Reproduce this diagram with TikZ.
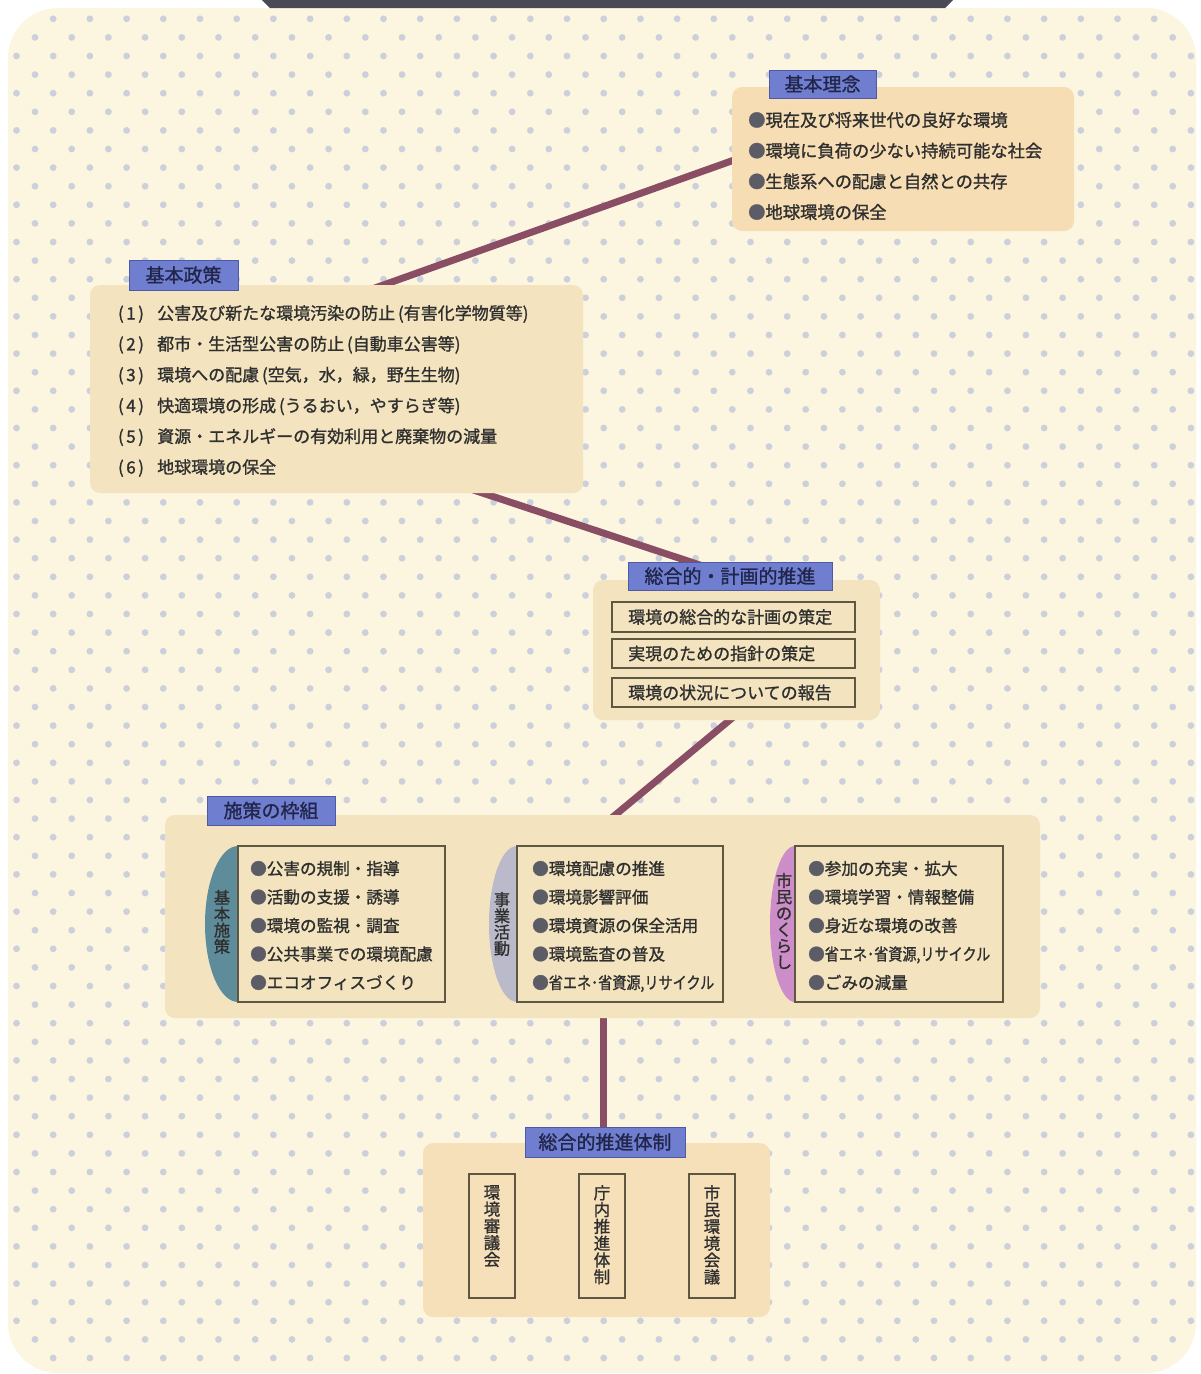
\documentclass[tikz,border=0pt]{standalone}
\usepackage{fontspec}
\setmainfont{Noto Sans CJK JP}[FakeBold=1.2]
\usetikzlibrary{calc}
\definecolor{cream}{HTML}{FCF6E0}
\definecolor{dotc}{HTML}{CBD0DA}
\definecolor{peach}{HTML}{F7DDB3}
\definecolor{peachb}{HTML}{F6E0BA}
\definecolor{boxf}{HTML}{F3E4BF}
\definecolor{labf}{HTML}{6F7ECF}
\definecolor{labd}{HTML}{4E5AA8}
\definecolor{labt}{HTML}{22254A}
\definecolor{txt}{HTML}{2F2F2F}
\definecolor{bul}{HTML}{5C5C66}
\definecolor{conc}{HTML}{8A4E64}
\definecolor{frm}{HTML}{5E5842}
\definecolor{tabA}{HTML}{5F8C9B}
\definecolor{tabB}{HTML}{BABACA}
\definecolor{tabC}{HTML}{CD8DC8}
\definecolor{topbar}{HTML}{4A4A56}
\pgfdeclarelayer{bgl}
\pgfdeclarelayer{conn}
\pgfsetlayers{bgl,conn,main}
\begin{document}
\begin{tikzpicture}[x=1pt,y=-1pt,
 panel/.style={fill=boxf, rounded corners=10pt, inner sep=0pt},
 tag/.style={fill=labf, draw=labd, line width=0.6pt, inner sep=0pt, text=labt, font=\fontsize{19}{19}\selectfont},
 frame/.style={draw=frm, line width=1.3pt, inner sep=0pt},
 conn/.style={draw=conc, line width=7pt},
 lnA/.style={anchor=west, inner sep=0pt, text=txt, font=\fontsize{17.3}{17.3}\selectfont, text height=15.2pt, text depth=2.1pt},
 lnB/.style={lnA, font=\fontsize{17}{17}\selectfont, text height=15pt, text depth=2pt},
 lnC/.style={lnA, font=\fontsize{16.6}{16.6}\selectfont, text height=14.6pt, text depth=2pt},
 vt/.style={inner sep=0pt, align=center, text=txt, font=\fontsize{16.3}{16.3}\selectfont},
 vtb/.style={inner sep=0pt, align=center, text=txt, anchor=north, font=\fontsize{16.5}{16.8}\selectfont},
]
\useasboundingbox (0,0) rectangle (1200,1374);
\begin{pgfonlayer}{bgl}
\fill[white] (0,0) rectangle (1200,1374);
\fill[cream, rounded corners=50pt] (8,8) rectangle (1196,1373);
\begin{scope}
\clip[rounded corners=50pt] (8,8) rectangle (1196,1373);
\foreach \m in {0,...,74}{
  \pgfmathsetmacro\yy{0.2+18.6*\m}
  \pgfmathsetmacro\xo{isodd(\m)?16.5:35}
  \foreach \k in {-1,...,33}
    \fill[dotc] ({\xo+36.7*\k},\yy) circle (3.4pt);
}
\end{scope}
\fill[topbar] (262,0) -- (953,0) -- (945,8) -- (270,8) -- cycle;
\end{pgfonlayer}

% 基本理念
\node[panel, fill=peach, minimum width=342pt, minimum height=144pt] (rinen) at (903,159) {};
\node[tag, minimum width=107pt, minimum height=28pt] (rinenL) at (822.5,84) {基本理念};
\foreach \t [count=\i] in {現在及び将来世代の良好な環境,環境に負荷の少ない持続可能な社会,生態系への配慮と自然との共存,地球環境の保全}
  \node[lnA] (r\i) at (748,{120+30.7*(\i-1)}) {{\color{bul}●}\t};

% 基本政策
\node[panel, minimum width=493pt, minimum height=208pt] (seisaku) at (336.5,389) {};
\node[tag, minimum width=109pt, minimum height=30pt] (seisakuL) at (183.5,275) {基本政策};
\foreach \t [count=\i] in {公害及び新たな環境汚染の防止\,(有害化学物質等),都市・生活型公害の防止\,(自動車公害等),環境への配慮\,(空気，水，緑，野生生物),快適環境の形成\,(うるおい，やすらぎ等),資源・エネルギーの有効利用と廃棄物の減量,地球環境の保全}{
  \node[lnB, anchor=center] (pn\i) at (131,{313+30.8*(\i-1)}) {(\hspace{2.5pt}\i\hspace{2.5pt})};
  \node[lnB] (pt\i) at (157,{313+30.8*(\i-1)}) {\t};
}

% 総合的・計画的推進
\node[panel, minimum width=287pt, minimum height=140pt] (suishin) at (736.5,650) {};
\node[tag, minimum width=204pt, minimum height=28pt] (suishinL) at (730,576) {総合的・計画的推進};
\node[frame, minimum width=243pt, minimum height=30pt] (s1) at (733.5,617) {};
\node[frame, minimum width=243pt, minimum height=29pt] (s2) at (733.5,653.5) {};
\node[frame, minimum width=243pt, minimum height=29pt] (s3) at (733.5,692.5) {};
\node[lnB] (s1t) at (628,617) {環境の総合的な計画の策定};
\node[lnB] (s2t) at (628,653.5) {実現のための指針の策定};
\node[lnB] (s3t) at (628,692.5) {環境の状況についての報告};

% 施策の枠組
\node[panel, minimum width=875pt, minimum height=203pt] (waku) at (602.5,916.5) {};
\node[tag, minimum width=128pt, minimum height=29pt] (wakuL) at (271,810.5) {施策の枠組};
\fill[tabA] (238,846) arc[start angle=90, end angle=270, x radius=33pt, y radius=78pt] -- cycle;
\fill[tabB] (517,846) arc[start angle=90, end angle=270, x radius=28pt, y radius=78pt] -- cycle;
\fill[tabC] (795,846) arc[start angle=90, end angle=270, x radius=25pt, y radius=78pt] -- cycle;
\node[frame, minimum width=207pt, minimum height=156pt] (f1) at (341.5,924) {};
\node[frame, minimum width=206pt, minimum height=156pt] (f2) at (620,924) {};
\node[frame, minimum width=208pt, minimum height=156pt] (f3) at (899,924) {};
\node[vt] (ta) at (222,922) {基\\本\\施\\策};
\node[vt] (tb) at (502,924) {事\\業\\活\\動};
\node[vt] (tc) at (784,921) {市\\民\\の\\く\\ら\\し};
\foreach \t [count=\i] in {公害の規制・指導,活動の支援・誘導,環境の監視・調査,公共事業での環境配慮,エコオフィスづくり}
  \node[lnC] (a\i) at (250,{868.5+28.5*(\i-1)}) {{\color{bul}●}\t};
\foreach \t [count=\i] in {環境配慮の推進,環境影響評価,環境資源の保全活用,環境監査の普及,{\scalebox{0.85}[1]{省エネ･省資源,リサイクル}}}
  \node[lnC] (b\i) at (532,{868.5+28.5*(\i-1)}) {{\color{bul}●}\t};
\foreach \t [count=\i] in {参加の充実・拡大,環境学習・情報整備,身近な環境の改善,{\scalebox{0.85}[1]{省エネ･省資源,リサイクル}},ごみの減量}
  \node[lnC] (c\i) at (808,{868.5+28.5*(\i-1)}) {{\color{bul}●}\t};

% 総合的推進体制
\node[panel, fill=peachb, minimum width=347pt, minimum height=174pt] (taisei) at (596.5,1230) {};
\node[tag, minimum width=160pt, minimum height=30pt] (taiseiL) at (605,1142) {総合的推進体制};
\node[frame, minimum width=46pt, minimum height=124pt] (t1) at (492,1236) {};
\node[frame, minimum width=46pt, minimum height=124pt] (t2) at (602,1236) {};
\node[frame, minimum width=46pt, minimum height=124pt] (t3) at (712,1236) {};
\node[vtb] (t1t) at (492,1185) {環\\境\\審\\議\\会};
\node[vtb] (t2t) at (602,1185) {庁\\内\\推\\進\\体\\制};
\node[vtb] (t3t) at (712,1185) {市\\民\\環\\境\\会\\議};

% connectors
\begin{pgfonlayer}{conn}
\draw[conn] ($(rinen.west)+(8,-1)$) -- ($(seisaku.north)+(25,8)$);
\draw[conn] ($(seisaku.south)+(128.5,-6)$) -- ($(suishinL.north)+(-25,5)$);
\draw[conn] ($(suishin.south)+(1.5,-7)$) -- ($(waku.north)+(4.5,7)$);
\draw[conn] ($(waku.south)+(0.5,-8)$) -- ($(taiseiL.north)+(-2,8)$);
\end{pgfonlayer}
\end{tikzpicture}
\end{document}
